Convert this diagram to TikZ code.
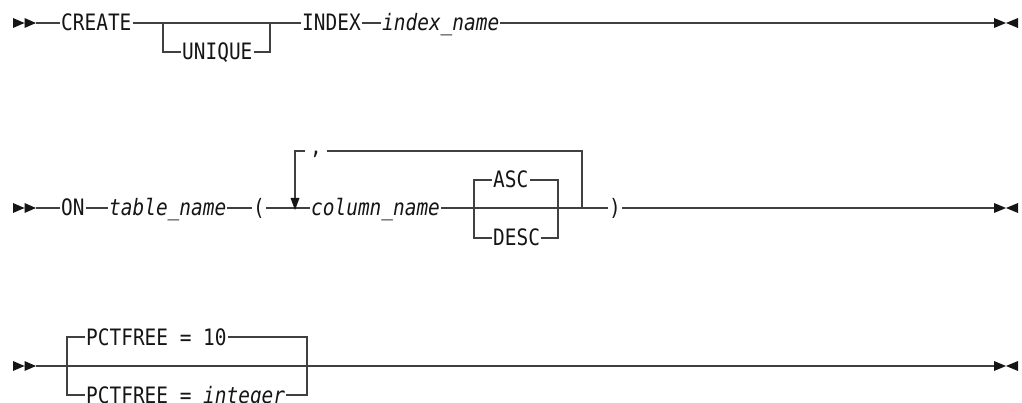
\documentclass[tikz,border=0pt]{standalone}
\usepackage{fontspec}
\setmonofont{DejaVu Sans Mono}[FakeStretch=0.86, ItalicFont={DejaVu Sans Mono Oblique}]
\newcommand{\synfont}{\ttfamily\fontsize{22.6pt}{24pt}\selectfont}
\definecolor{lncol}{HTML}{404040}
\definecolor{txcol}{HTML}{151515}
\tikzset{
  ln/.style={draw=lncol, line width=1.3pt},
  txt/.style={font=\synfont, text=txcol, inner xsep=1pt, inner ysep=0pt,
              text height=20pt, text depth=4pt, anchor=west},
  sep/.style={font=\synfont, text=txcol, inner sep=0pt, minimum width=22pt,
              text height=12pt, text depth=4pt},
  startmk/.pic={\fill[txcol] (0,-5) -- (0,5) -- (11.5,0) -- cycle
                              (11.5,-5) -- (11.5,5) -- (23,0) -- cycle;},
  endmk/.pic={\fill[txcol] (0,-5) -- (0,5) -- (12,0) -- cycle
                            (24,-5) -- (24,5) -- (12,0) -- cycle;}
}
\begin{document}
\begin{tikzpicture}[x=1pt,y=-1pt]
\useasboundingbox (0,0) rectangle (1022,403);

% ---------- Row 1 ----------
\pic at (13,23) {startmk};
\pic at (994,23) {endmk};
\coordinate (s1) at (36,23);
\coordinate (e1) at (994,23);
\coordinate (j1) at (163,23);
\coordinate (j2) at (270,23);
\node[txt] (create) at (60,23) {CREATE};
\node[txt] (unique) at (181,52) {UNIQUE};
\node[txt] (index) at (301,23) {INDEX};
\node[txt] (iname) at (381,23) {\itshape index\_name};
\draw[ln] (s1) -- (create);
\draw[ln] (create) -- (index);
\draw[ln] (j1) |- (unique);
\draw[ln] (unique) -| (j2);
\draw[ln] (index) -- (iname);
\draw[ln] (iname) -- (e1);

% ---------- Row 2 ----------
\pic at (13,208) {startmk};
\pic at (994,208) {endmk};
\coordinate (s2) at (36,208);
\coordinate (e2) at (994,208);
\coordinate (jl) at (295,208);
\coordinate (atop) at (295,198);
\coordinate (ja) at (474,208);
\coordinate (jb) at (558,208);
\coordinate (jr) at (582,208);
\node[txt] (on) at (60,208) {ON};
\node[txt] (tname) at (108,208) {\itshape table\_name};
\node[txt] (lpar) at (252,208) {(};
\node[txt] (cname) at (310,208) {\itshape column\_name};
\node[txt] (asc) at (492,180) {ASC};
\node[txt] (desc) at (492,238) {DESC};
\node[txt] (rpar) at (608,208) {)};
\node[sep] (comma) at (316,151) {,};
\draw[ln] (s2) -- (on);
\draw[ln] (on) -- (tname);
\draw[ln] (tname) -- (lpar);
\draw[ln] (lpar) -- (cname);
\draw[ln] (cname) -- (rpar);
\draw[ln] (ja) |- (asc);
\draw[ln] (asc) -| (jb);
\draw[ln] (ja) |- (desc);
\draw[ln] (desc) -| (jb);
\draw[ln] (jr) |- (comma);
\draw[ln] (comma) -| (atop);
\fill[txcol] (atop) ++(-4.5,0) -- ++(9,0) -- ([yshift=-2pt]jl) -- cycle;
\draw[ln] (rpar) -- (e2);

% ---------- Row 3 ----------
\pic at (13,366) {startmk};
\pic at (994,366) {endmk};
\coordinate (s3) at (36,366);
\coordinate (e3) at (994,366);
\coordinate (jc) at (67,366);
\coordinate (jd) at (307,366);
\node[txt] (p10) at (85,337) {PCTFREE = 10};
\node[txt] (pint) at (85,395) {PCTFREE = \textit{integer}};
\draw[ln] (s3) -- (e3);
\draw[ln] (jc) |- (p10);
\draw[ln] (p10) -| (jd);
\draw[ln] (jc) |- (pint);
\draw[ln] (pint) -| (jd);
\end{tikzpicture}
\end{document}
